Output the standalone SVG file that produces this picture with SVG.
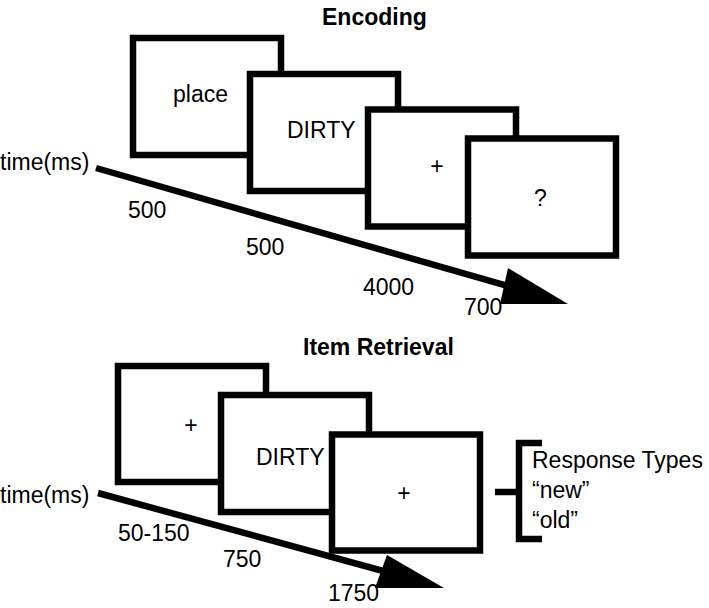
<svg xmlns="http://www.w3.org/2000/svg" width="709" height="608" viewBox="0 0 709 608">
  <style>
    .box { fill: #ffffff; stroke: #000000; stroke-width: 6.5; }
    .t { font-family: "Liberation Sans", Arial, sans-serif; font-size: 23px; fill: #000000; }
    .title { font-family: "Liberation Sans", Arial, sans-serif; font-size: 23px; font-weight: bold; fill: #000000; }
    .mid { text-anchor: middle; }
    .axis { stroke: #000000; stroke-width: 6.5; fill: none; }
    .head { fill: #000000; stroke: none; }
  </style>
  <rect width="709" height="608" fill="#ffffff"/>

  <!-- Encoding -->
  <text id="title-encoding" class="title" x="322" y="25">Encoding</text>

  <g id="connectors">
    <line class="axis" x1="96" y1="168" x2="532" y2="293"/>
    <polygon class="head" points="508,268 568,304 500,304"/>
    <line class="axis" x1="98" y1="493" x2="405" y2="577"/>
    <polygon class="head" points="387,555 444,588 375,588"/>
  </g>

  <g id="enc-place">
    <rect class="box" x="133" y="38" width="148" height="117"/>
    <text class="t" x="173" y="102">place</text>
  </g>
  <g id="enc-word">
    <rect class="box" x="250" y="74" width="148" height="117"/>
    <text class="t" x="287" y="138">DIRTY</text>
  </g>
  <g id="enc-fix">
    <rect class="box" x="368" y="109.5" width="148" height="117"/>
    <text class="t mid" x="437" y="174">+</text>
  </g>
  <g id="enc-question">
    <rect class="box" x="468" y="138.5" width="148" height="117"/>
    <text class="t" x="534" y="206">?</text>
  </g>

  <g id="enc-labels">
    <text class="t" x="0" y="170">time(ms)</text>
    <text class="t" x="128" y="218">500</text>
    <text class="t" x="246" y="255">500</text>
    <text class="t" x="363" y="295">4000</text>
    <text class="t" x="464" y="315">700</text>
  </g>

  <!-- Item Retrieval -->
  <text id="title-retrieval" class="title" x="303" y="355">Item Retrieval</text>

  <g id="ret-fix1">
    <rect class="box" x="118" y="366" width="148" height="116"/>
    <text class="t mid" x="191" y="433">+</text>
  </g>
  <g id="ret-word">
    <rect class="box" x="221" y="395" width="148" height="117"/>
    <text class="t" x="256" y="465">DIRTY</text>
  </g>
  <g id="ret-fix2">
    <rect class="box" x="332" y="434.5" width="148" height="116"/>
    <text class="t mid" x="404" y="501">+</text>
  </g>

  <g id="ret-labels">
    <text class="t" x="0" y="503">time(ms)</text>
    <text class="t" x="118" y="541">50-150</text>
    <text class="t" x="223" y="567">750</text>
    <text class="t" x="328" y="601">1750</text>
  </g>

  <g id="response-types">
    <path d="M542,443 H519 V539 H542" fill="none" stroke="#000" stroke-width="6.5"/>
    <line x1="495" y1="492" x2="519" y2="492" stroke="#000" stroke-width="6.5"/>
    <text class="t" x="532" y="468">Response Types</text>
    <text class="t" x="532" y="498">“new”</text>
    <text class="t" x="532" y="528">“old”</text>
  </g>
</svg>
